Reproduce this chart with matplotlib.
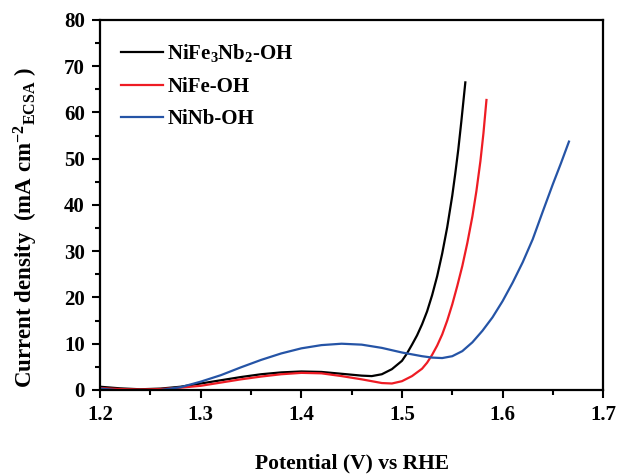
import matplotlib
matplotlib.use("Agg")
import matplotlib.pyplot as plt
from matplotlib.ticker import MultipleLocator

plt.rcParams['font.family'] = ['Liberation Serif', 'DejaVu Serif']
plt.rcParams['font.weight'] = 'bold'
plt.rcParams['mathtext.fontset'] = 'custom'
plt.rcParams['mathtext.rm'] = 'Liberation Serif:bold'
plt.rcParams['mathtext.bf'] = 'Liberation Serif:bold'
plt.rcParams['mathtext.it'] = 'Liberation Serif:bold'
plt.rcParams['mathtext.default'] = 'rm'

# Data
black_x = [1.20, 1.22, 1.24, 1.26, 1.28, 1.30, 1.32, 1.34, 1.36, 1.38, 1.40, 1.42, 1.44, 1.46, 1.47,
           1.48, 1.49, 1.50, 1.505, 1.51, 1.515, 1.52, 1.525, 1.53, 1.535, 1.54, 1.545, 1.55,
           1.553, 1.556, 1.559, 1.563]
black_y = [0.7, 0.35, 0.15, 0.3, 0.7, 1.4, 2.1, 2.8, 3.4, 3.8, 4.0, 3.9, 3.5, 3.1, 3.0,
           3.4, 4.5, 6.3, 7.9, 9.8, 11.8, 14.2, 17.0, 20.5, 24.6, 29.5, 35.2, 42.0,
           46.8, 52.0, 58.0, 66.5]

red_x = [1.20, 1.22, 1.24, 1.26, 1.28, 1.30, 1.32, 1.34, 1.36, 1.38, 1.40, 1.42, 1.44, 1.46, 1.48,
         1.49, 1.50, 1.51, 1.52, 1.525, 1.53, 1.535, 1.54, 1.545, 1.55, 1.555, 1.56, 1.565,
         1.57, 1.574, 1.578, 1.581, 1.584]
red_y = [0.4, 0.2, 0.1, 0.2, 0.5, 0.9, 1.6, 2.3, 2.9, 3.4, 3.7, 3.6, 3.0, 2.3, 1.5,
         1.4, 1.9, 3.0, 4.6, 5.9, 7.6, 9.6, 12.0, 15.0, 18.5, 22.5, 26.8, 31.8,
         37.5, 43.0, 49.5, 55.5, 62.7]

blue_x = [1.20, 1.22, 1.24, 1.26, 1.28, 1.30, 1.32, 1.34, 1.36, 1.38, 1.40, 1.42, 1.44, 1.46, 1.48,
          1.50, 1.52, 1.53, 1.54, 1.55, 1.56, 1.57, 1.58, 1.59, 1.60, 1.61, 1.62, 1.63, 1.64,
          1.65, 1.658, 1.666]
blue_y = [0.3, -0.1, -0.3, 0.0, 0.6, 1.8, 3.2, 4.9, 6.5, 7.9, 9.0, 9.7, 10.0, 9.8, 9.1,
          8.1, 7.3, 7.0, 6.9, 7.3, 8.4, 10.3, 12.8, 15.7, 19.2, 23.2, 27.6, 32.6, 38.6,
          44.5, 49.0, 53.7]

labels = ['NiFe$_3$Nb$_2$-OH', 'NiFe-OH', 'NiNb-OH']
colors = ['#000000', '#ee1c24', '#2554a6']

fig = plt.figure(figsize=(6.18, 4.75), dpi=100)
ax = fig.add_axes([0.162, 0.179, 0.814, 0.779])

for xs, ys, lab, c in zip([black_x, red_x, blue_x], [black_y, red_y, blue_y], labels, colors):
    ax.plot(xs, ys, color=c, lw=1.6, label=lab, solid_joinstyle='round')

ax.set_xlim(1.2, 1.7)
ax.set_ylim(0, 80)
ax.xaxis.set_major_locator(MultipleLocator(0.1))
ax.xaxis.set_minor_locator(MultipleLocator(0.05))
ax.yaxis.set_major_locator(MultipleLocator(10))
ax.yaxis.set_minor_locator(MultipleLocator(5))
ax.tick_params(which='both', direction='out', width=1.5, labelsize=15, pad=5)
ax.tick_params(which='major', length=6)
ax.tick_params(which='minor', length=3.5)
for s in ax.spines.values():
    s.set_linewidth(1.6)

ax.set_xlabel('Potential (V) vs RHE', fontsize=15.5, fontweight='bold', labelpad=20)
ax.set_ylabel('Current density  (mA cm$^{-2}$$_{\\mathrm{ECSA}}$ )', fontsize=16.5, fontweight='bold')
ax.yaxis.set_label_coords(-0.12, 0.44)

leg = ax.legend(loc='upper left', frameon=False, fontsize=15, handlelength=2.0,
                labelspacing=0.6, handletextpad=0.2, borderaxespad=0.5,
                bbox_to_anchor=(0.005, 0.99))

fig.savefig('out.png', dpi=100)
